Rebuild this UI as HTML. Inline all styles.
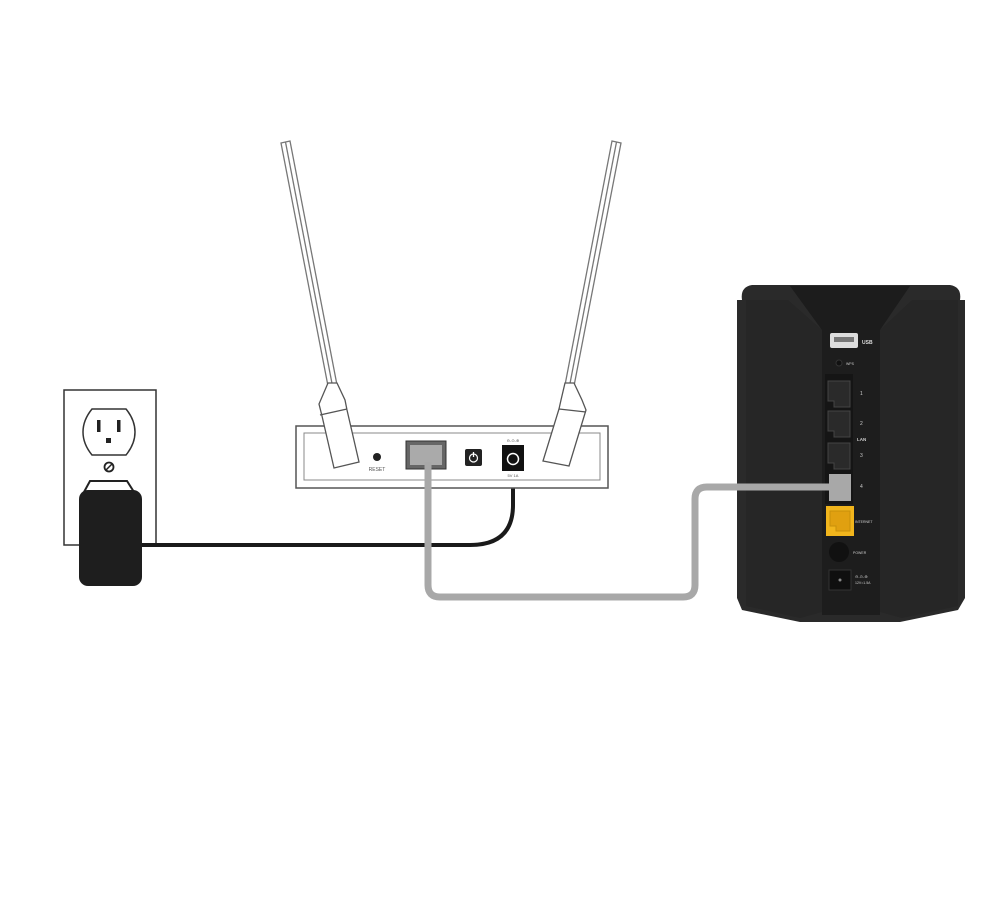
<!DOCTYPE html>
<html><head><meta charset="utf-8"><style>
html,body{margin:0;padding:0;background:#fff;}
svg{display:block;}
text{font-family:"Liberation Sans",sans-serif;}
</style></head><body>
<svg width="1000" height="903" viewBox="0 0 1000 903" xmlns="http://www.w3.org/2000/svg">
<rect width="1000" height="903" fill="#fff"/>

<!-- Wall outlet -->
<rect x="64" y="390" width="92" height="155" fill="#fff" stroke="#333" stroke-width="1.5"/>
<path d="M92 409 H126 Q135 420 135 432 Q135 444 126 455 H92 Q83 444 83 432 Q83 420 92 409 Z" fill="#fff" stroke="#333" stroke-width="1.5"/>
<rect x="97" y="420" width="3.5" height="12" fill="#222"/>
<rect x="117" y="420" width="3.5" height="12" fill="#222"/>
<rect x="106" y="438" width="5" height="5" fill="#222"/>
<circle cx="109" cy="467" r="4.5" fill="#fff" stroke="#222" stroke-width="1.8"/>
<line x1="106" y1="470" x2="112" y2="464" stroke="#222" stroke-width="1.5"/>
<!-- Adapter -->
<path d="M90 481 H127 L134 492 H84 Z" fill="#fff" stroke="#222" stroke-width="2"/>
<rect x="79" y="490" width="63" height="96" rx="9" fill="#1e1e1e"/>

<!-- Black power cable -->
<path d="M142 545 H470 Q513 545 513 505 V470" fill="none" stroke="#1a1a1a" stroke-width="4"/>

<!-- Access point body -->
<rect x="296" y="426" width="312" height="62" fill="#fff" stroke="#555" stroke-width="1.5"/>
<rect x="304" y="433" width="296" height="47" fill="#fff" stroke="#888" stroke-width="1"/>
<!-- Antennas -->
<g fill="#fff" stroke="#777" stroke-width="1.3">
<polygon points="281,143 290,141 337,385 328,386"/>
<polygon points="612,141 621,143 574,386 565,385"/>
<line x1="285.5" y1="142" x2="332.5" y2="386"/>
<line x1="616.5" y1="142" x2="569.5" y2="386"/>
<path d="M328 383 L337 383 L345 400 L347 410 L359 462 L334 468 L322 416 L319 404 Z" stroke="#555"/>
<line x1="320" y1="415" x2="347" y2="409" stroke="#555"/>
<path d="M565 383 L574 383 L582 400 L586 410 L569 466 L543 461 L559 409 L561 400 Z" stroke="#555"/>
<line x1="559" y1="409" x2="586" y2="412" stroke="#555"/>
</g>
<circle cx="377" cy="457" r="4" fill="#222"/>
<text x="377" y="471" font-size="5" text-anchor="middle" fill="#555">RESET</text>
<rect x="406" y="441" width="40" height="28" fill="#666" stroke="#333" stroke-width="1"/>
<rect x="410" y="445" width="32" height="20" fill="#aaa"/>
<rect x="465" y="449" width="17" height="17" rx="2" fill="#222"/>
<circle cx="473.5" cy="458" r="4" fill="none" stroke="#fff" stroke-width="1.2"/>
<line x1="473.5" y1="452" x2="473.5" y2="457" stroke="#fff" stroke-width="1.3"/>
<rect x="502" y="445" width="22" height="26" fill="#111"/>
<circle cx="513" cy="459" r="5.5" fill="none" stroke="#fff" stroke-width="1.5"/>
<text x="513" y="442" font-size="4" text-anchor="middle" fill="#555">⊖-⊙-⊕</text>
<text x="513" y="477" font-size="4" text-anchor="middle" fill="#555">5V 1A</text>

<!-- Router -->
<path d="M752 285 H950 Q962 287 960 300 L965 300 V598 L958 610 L900 622 H800 L742 610 L737 598 V300 L742 300 Q740 287 752 285 Z" fill="#2a2a2a"/>
<path d="M746 300 H788 L822 330 V612 L800 618 L746 606 Z" fill="#262626"/>
<path d="M958 300 H912 L880 330 V612 L902 618 L958 606 Z" fill="#262626"/>
<path d="M790 286 H910 L880 330 H822 Z" fill="#1c1c1c"/>
<rect x="822" y="330" width="58" height="285" fill="#1d1d1d"/>
<rect x="830" y="333" width="28" height="15" rx="2" fill="#ddd"/>
<rect x="834" y="337" width="20" height="5" fill="#777"/>
<text x="862" y="344" font-size="5" fill="#ddd" font-weight="bold">USB</text>
<circle cx="839" cy="363" r="3" fill="#111" stroke="#333"/>
<text x="846" y="365" font-size="3.5" fill="#ccc">WPS</text>
<rect x="825" y="374" width="28" height="130" fill="#151515"/>
<g fill="#2a2a2a" stroke="#444" stroke-width="1">
<path d="M828 381 H850 V407 H834 V401 H828 Z"/>
<path d="M828 411 H850 V437 H834 V431 H828 Z"/>
<path d="M828 443 H850 V469 H834 V463 H828 Z"/>
</g>
<text x="860" y="395" font-size="5" fill="#ccc">1</text>
<text x="860" y="425" font-size="5" fill="#ccc">2</text>
<text x="857" y="441" font-size="4.5" fill="#ccc" font-weight="bold">LAN</text>
<text x="860" y="457" font-size="5" fill="#ccc">3</text>
<text x="860" y="488" font-size="5" fill="#ccc">4</text>
<rect x="826" y="506" width="28" height="30" fill="#f1b51c"/>
<path d="M830 511 H850 V531 H836 V526 H830 Z" fill="#e0a010" stroke="#c8900a" stroke-width="1"/>
<text x="855" y="523" font-size="3.5" fill="#ccc">INTERNET</text>
<circle cx="839" cy="552" r="10" fill="#111"/>
<text x="853" y="554" font-size="3.5" fill="#ccc">POWER</text>
<rect x="829" y="570" width="22" height="20" fill="#0f0f0f" stroke="#333"/>
<circle cx="840" cy="580" r="1.5" fill="#888"/>
<text x="855" y="578" font-size="4" fill="#ccc">⊖-⊙-⊕</text>
<text x="855" y="584" font-size="3.5" fill="#ccc">12V=1.5A</text>

<!-- Gray ethernet cable (on top) -->
<path d="M428 462 V585 Q428 597 440 597 H683 Q695 597 695 585 V499 Q695 487 707 487 H832" fill="none" stroke="#a8a8a8" stroke-width="7"/>
<rect x="829" y="474" width="22" height="27" fill="#a8a8a8"/>
</svg>
</body></html>
